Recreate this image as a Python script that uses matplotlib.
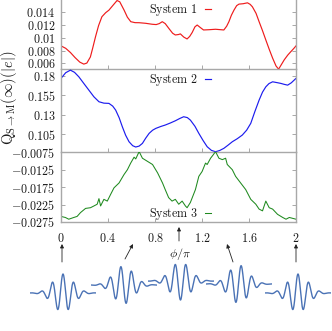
import numpy as np
import matplotlib
matplotlib.use("Agg")
import matplotlib.pyplot as plt

plt.rcParams['mathtext.fontset'] = 'cm'
plt.rcParams['font.family'] = ['DejaVu Serif']

# ---------------- data ----------------
red_phi = [0.0, 0.04, 0.08, 0.12, 0.16, 0.194, 0.22, 0.25, 0.27, 0.294, 0.32, 0.348,
           0.38, 0.408, 0.44, 0.477, 0.50, 0.537, 0.565, 0.594, 0.63, 0.665, 0.72,
           0.776, 0.81, 0.836, 0.862, 0.887, 0.92, 0.95, 0.973, 1.00, 1.016, 1.045,
           1.073, 1.095, 1.116, 1.14, 1.159, 1.185, 1.213, 1.26, 1.315, 1.36, 1.386,
           1.41, 1.429, 1.45, 1.472, 1.495, 1.515, 1.55, 1.587, 1.61, 1.629, 1.66,
           1.686, 1.715, 1.743, 1.772, 1.801, 1.83, 1.852, 1.875, 1.900, 1.93,
           1.957, 1.98, 2.0]
red_val = [0.00873, 0.00835, 0.00770, 0.00690, 0.00620, 0.00589, 0.00605, 0.00700,
           0.00840, 0.01017, 0.01190, 0.01327, 0.01390, 0.0143, 0.01500, 0.0158,
           0.01560, 0.0143, 0.01320, 0.0125, 0.01235, 0.01234, 0.01225, 0.0121,
           0.01205, 0.0122, 0.0125, 0.0122, 0.01140, 0.01070, 0.01043, 0.01050,
           0.0106, 0.01010, 0.00981, 0.01020, 0.0108, 0.01170, 0.01198, 0.01160,
           0.01121, 0.01125, 0.01132, 0.01125, 0.01121, 0.01180, 0.0125, 0.01350,
           0.0143, 0.01500, 0.01524, 0.01530, 0.01544, 0.01520, 0.01482, 0.01380,
           0.0125, 0.01110, 0.00966, 0.00820, 0.00682, 0.00560, 0.0051, 0.00580,
           0.00656, 0.00730, 0.00785, 0.00830, 0.00873]

blue_phi = [0.0, 0.04, 0.080, 0.115, 0.152, 0.195, 0.237, 0.28, 0.323, 0.365, 0.408,
            0.44, 0.465, 0.495, 0.522, 0.55, 0.579, 0.61, 0.636, 0.665, 0.693, 0.72,
            0.750, 0.78, 0.807, 0.85, 0.887, 0.93, 0.973, 1.01, 1.044, 1.075, 1.101,
            1.14, 1.173, 1.21, 1.244, 1.28, 1.315, 1.35, 1.386, 1.42, 1.458, 1.50,
            1.543, 1.58, 1.615, 1.65, 1.686, 1.715, 1.743, 1.77, 1.801, 1.84, 1.872,
            1.90, 1.929, 1.96, 2.0]
blue_val = [0.1767, 0.1840, 0.1873, 0.1845, 0.1787, 0.1700, 0.1616, 0.1530, 0.1466,
            0.1448, 0.1445, 0.1410, 0.1359, 0.1260, 0.1144, 0.1035, 0.0951, 0.0900,
            0.0883, 0.0895, 0.0930, 0.0995, 0.1059, 0.1100, 0.1123, 0.1148, 0.1166,
            0.1192, 0.1221, 0.1250, 0.1273, 0.1262, 0.1230, 0.1150, 0.1059, 0.0965,
            0.0887, 0.0840, 0.0822, 0.0838, 0.0866, 0.0905, 0.0951, 0.0990, 0.1037,
            0.1100, 0.1188, 0.1340, 0.1487, 0.1590, 0.1658, 0.1700, 0.1723, 0.1712,
            0.1702, 0.1690, 0.1680, 0.1710, 0.1767]

green_phi = [0.0, 0.037, 0.066, 0.109, 0.137, 0.166, 0.209, 0.251, 0.280, 0.308,
             0.323, 0.337, 0.365, 0.394, 0.422, 0.451, 0.494, 0.536, 0.565, 0.593,
             0.622, 0.636, 0.665, 0.693, 0.736, 0.779, 0.822, 0.864, 0.887, 0.916,
             0.945, 0.973, 1.002, 1.031, 1.059, 1.073, 1.101, 1.144, 1.173, 1.201,
             1.230, 1.244, 1.273, 1.296, 1.315, 1.344, 1.373, 1.401, 1.415, 1.458,
             1.486, 1.529, 1.572, 1.615, 1.658, 1.686, 1.715, 1.743, 1.772, 1.801,
             1.843, 1.887, 1.915, 1.943, 2.0]
green_val = [-0.0259, -0.0262, -0.0267, -0.0262, -0.0259, -0.0248, -0.0236, -0.0234,
             -0.0229, -0.0224, -0.0208, -0.0229, -0.0210, -0.0215, -0.0196, -0.0177,
             -0.0163, -0.0139, -0.0125, -0.0106, -0.0089, -0.0094, -0.0073, -0.0092,
             -0.0101, -0.0110, -0.0134, -0.0163, -0.0182, -0.0205, -0.0215, -0.0210,
             -0.0224, -0.0215, -0.0229, -0.0234, -0.0219, -0.0182, -0.0144, -0.0130,
             -0.0106, -0.0110, -0.0092, -0.0082, -0.0073, -0.0092, -0.0096, -0.0092,
             -0.0110, -0.0125, -0.0144, -0.0163, -0.0182, -0.0210, -0.0224, -0.0238,
             -0.0243, -0.0215, -0.0234, -0.0238, -0.0253, -0.0262, -0.0267, -0.0262,
             -0.0267]

series_labels = ["System 1", "System 2", "System 3"]
x_ticks = [0, 0.4, 0.8, 1.2, 1.6, 2]
x_ticklabels = ["0", "0.4", "0.8", "1.2", "1.6", "2"]
top_ticks = [0.006, 0.008, 0.01, 0.012, 0.014]
top_ticklabels = ["0.006", "0.008", "0.01", "0.012", "0.014"]
mid_ticks = [0.105, 0.13, 0.155, 0.18]
mid_ticklabels = ["0.105", "0.13", "0.155", "0.18"]
bot_ticks = [-0.0275, -0.0225, -0.0175, -0.0125, -0.0075]
bot_ticklabels = ["\u22120.0275", "\u22120.0225", "\u22120.0175", "\u22120.0125", "\u22120.0075"]
packet_phases = [0.0, 0.5, 1.0, 1.5, 2.0]   # carrier-envelope phase / pi

# ---------------- figure ----------------
W, H = 332, 331
fig = plt.figure(figsize=(W / 100, H / 100), dpi=100)

def fx(px):
    return px / W

def fy(py):
    return 1 - py / H

left, right = 61, 296
panels = [(0, 69.3), (69.3, 152.3), (152.3, 222.0)]
spine_col = '#a8a8a8'
txt_col = '#1a1a1a'
FS = 8.7

axes = []
for (t, b) in panels:
    ax = fig.add_axes([fx(left), fy(b), fx(right) - fx(left), (b - t) / H])
    ax.patch.set_alpha(0)
    axes.append(ax)

ax1, ax2, ax3 = axes
ax1.plot(red_phi, red_val, color='#ee1c1c', lw=0.85, label=series_labels[0])
ax2.plot(blue_phi, blue_val, color='#1c1cee', lw=0.85, label=series_labels[1])
ax3.plot(green_phi, green_val, color='#1f8a1f', lw=0.75, label=series_labels[2])

ax1.set_ylim(0.00508, 0.01588)
ax2.set_ylim(0.0815, 0.1884)
ax3.set_ylim(-0.0275, -0.0075)

ylists = [(top_ticks, top_ticklabels), (mid_ticks, mid_ticklabels), (bot_ticks, bot_ticklabels)]
for ax, (tk, tl) in zip(axes, ylists):
    ax.set_xlim(0, 2)
    ax.set_xticks(x_ticks)
    ax.set_yticks(tk)
    ax.set_yticklabels(["$" + s.replace("\u2212", "-") + "$" for s in tl], fontsize=FS, color=txt_col)
    ax.tick_params(axis='both', direction='in', length=3, width=0.7, color=spine_col,
                   right=True, top=False, pad=4)
    for sp in ax.spines.values():
        sp.set_color(spine_col)
        sp.set_linewidth(1.0)
    ax.spines['top'].set_visible(False)

for ax in (ax1, ax2):
    ax.set_xticklabels([])
ax3.set_xticklabels(["$" + s + "$" for s in x_ticklabels], fontsize=FS, color=txt_col)
ax3.tick_params(axis='x', pad=7)

legend_pos = [(0.638, 0.856), (0.638, 0.871), (0.638, 0.115)]
for ax, (lx, ly) in zip(axes, legend_pos):
    h, l = ax.get_legend_handles_labels()
    leg = ax.legend(h, [r"$\mathrm{" + s.replace(" ", r"\ ") + "}$" for s in l],
                    loc='center right', bbox_to_anchor=(lx, ly), frameon=False,
                    markerfirst=False, handlelength=0.5, handletextpad=0.6,
                    borderpad=0, borderaxespad=0, fontsize=FS)
    for t in leg.get_texts():
        t.set_color(txt_col)

# y label
fig.text(fx(9), fy(98), r"$\mathrm{Q}_{\mathrm{S}\rightarrow\mathrm{M}}(\infty)(|e|)$",
         rotation=90, ha='center', va='center', fontsize=10.5, color=txt_col)
# x label
fig.text(fx(180), fy(254), r"$\phi/\pi$", ha='center', va='center', fontsize=FS, color=txt_col)

# arrows from packets to axis
arrows = [((62, 262), (62, 244)), ((125, 259), (133, 244)), ((179, 241), (179, 227)),
          ((233, 262), (227, 244)), ((296, 262), (296, 244))]
for (x0, y0), (x1, y1) in arrows:
    fig.patches.append(matplotlib.patches.FancyArrowPatch(
        (fx(x0), fy(y0)), (fx(x1), fy(y1)), transform=fig.transFigure,
        arrowstyle='-|>,head_length=2.2,head_width=1.1', color='#222222', lw=0.6,
        shrinkA=0, shrinkB=0))

# wave packets (Gaussian-modulated carrier, phase phi)
centers = [(63, 293), (123.5, 285), (180.5, 281), (238.5, 284), (298, 293)]
half_w, half_h = 33, 23
t = np.linspace(-half_w, half_w, 600)
period, sigma = 10.7, 10.0
for (cx, cy), ph in zip(centers, packet_phases):
    pa = fig.add_axes([fx(cx - half_w), fy(cy + half_h), 2 * half_w / W, 2 * half_h / H])
    pa.patch.set_alpha(0)
    pa.axis('off')
    yv = 19 * np.exp(-t ** 2 / (2 * sigma ** 2)) * np.cos(2 * np.pi * t / period + ph * np.pi)
    pa.plot(t, yv, color='#4a72b5', lw=1.0)
    pa.set_xlim(-half_w, half_w)
    pa.set_ylim(-half_h, half_h)

fig.savefig("out.png", dpi=100)
